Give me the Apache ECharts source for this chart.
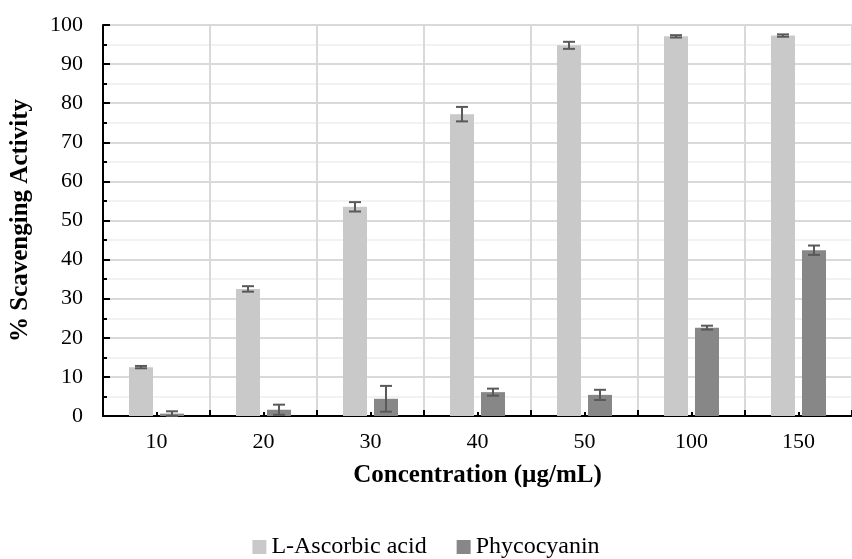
<!DOCTYPE html>
<html>
<head>
<meta charset="utf-8">
<script src="https://cdn.jsdelivr.net/npm/echarts@6/dist/echarts.min.js"></script>
<style>
  html, body { margin: 0; padding: 0; background: #fff; }
  #chart { width: 852px; height: 559px; }
</style>
</head>
<body>
<div id="chart"></div>
<script>
// Concentrations tested (µg/mL)
const categories = ['10', '20', '30', '40', '50', '100', '150'];

// Mean % scavenging activity and standard deviation
const ascorbicMean = [12.5, 32.5, 53.5, 77.2, 94.8, 97.1, 97.3];
const ascorbicSd   = [0.3, 0.7, 1.2, 1.85, 0.9, 0.3, 0.3];
const phycoMean    = [0.6, 1.6, 4.4, 6.1, 5.4, 22.6, 42.4];
const phycoSd      = [0.6, 1.3, 3.3, 0.9, 1.3, 0.5, 1.2];

const seriesNames = ['L-Ascorbic acid', 'Phycocyanin'];
const seriesColors = ['#c9c9c9', '#878787'];

const FONT = '"Liberation Serif", "Times New Roman", serif';
const BAR_W = 24;
const BAR_GAP = 7;

const chart = echarts.init(document.getElementById('chart'), null, { renderer: 'canvas' });

function errorBars(means, sds, side) {
  const shift = side * (BAR_W + BAR_GAP) / 2;
  return {
    type: 'custom',
    z: 5,
    silent: true,
    data: means.map((m, i) => [i, m, sds[i]]),
    renderItem: function (params, api) {
      const i = api.value(0), m = api.value(1), e = api.value(2);
      const top = api.coord([i, m + e]);
      const bot = api.coord([i, Math.max(0, m - e)]);
      const x = top[0] + shift;
      const half = 6;
      const style = { stroke: '#595959', lineWidth: 2 };
      return {
        type: 'group',
        children: [
          { type: 'line', shape: { x1: x, y1: top[1], x2: x, y2: bot[1] }, style: style },
          { type: 'line', shape: { x1: x - half, y1: top[1], x2: x + half, y2: top[1] }, style: style },
          { type: 'line', shape: { x1: x - half, y1: bot[1], x2: x + half, y2: bot[1] }, style: style }
        ]
      };
    }
  };
}

const option = {
  animation: false,
  backgroundColor: '#ffffff',
  textStyle: { fontFamily: FONT },
  grid: { left: 103, top: 25, width: 758, height: 391, containLabel: false },
  legend: {
    top: 530,
    left: 'center',
    icon: 'rect',
    itemWidth: 14,
    itemHeight: 14,
    itemGap: 30,
    data: seriesNames,
    textStyle: { fontFamily: FONT, fontSize: 24, color: '#000' }
  },
  xAxis: [
    {
      type: 'category',
      data: categories,
      boundaryGap: true,
      name: 'Concentration (µg/mL)',
      nameLocation: 'middle',
      nameGap: 47,
      nameTextStyle: { fontFamily: FONT, fontSize: 25, fontWeight: 'bold', color: '#000' },
      axisLine: { show: true, lineStyle: { color: '#000', width: 2 } },
      axisTick: { show: true, inside: true, length: 6, lineStyle: { color: '#000', width: 2 } },
      axisLabel: { fontFamily: FONT, fontSize: 22, color: '#000', margin: 15 },
      splitLine: { show: true, lineStyle: { color: '#d9d9d9', width: 2 } }
    },
    {
      // short ticks at each category centre
      type: 'category',
      data: categories,
      position: 'bottom',
      boundaryGap: true,
      axisLine: { show: false },
      axisTick: { show: true, inside: true, alignWithLabel: true, length: 4, lineStyle: { color: '#000', width: 2 } },
      axisLabel: { show: false },
      splitLine: { show: false }
    }
  ],
  yAxis: {
    type: 'value',
    min: 0,
    max: 100,
    interval: 10,
    name: '% Scavenging Activity',
    nameLocation: 'middle',
    nameGap: 70,
    nameTextStyle: { fontFamily: FONT, fontSize: 25, fontWeight: 'bold', color: '#000' },
    axisLine: { show: true, lineStyle: { color: '#000', width: 2 } },
    axisTick: { show: true, inside: true, length: 7, lineStyle: { color: '#000', width: 2 } },
    minorTick: { show: true, splitNumber: 2, length: 4, lineStyle: { color: '#000', width: 2 } },
    axisLabel: { fontFamily: FONT, fontSize: 22, color: '#000', margin: 20 },
    splitLine: { show: true, lineStyle: { color: '#d9d9d9', width: 2 } },
    minorSplitLine: { show: true, lineStyle: { color: '#f2f2f2', width: 2 } }
  },
  series: [
    {
      name: seriesNames[0],
      type: 'bar',
      data: ascorbicMean,
      barWidth: BAR_W,
      barGap: (BAR_GAP / BAR_W * 100) + '%',
      itemStyle: { color: seriesColors[0] },
      z: 3
    },
    {
      name: seriesNames[1],
      type: 'bar',
      data: phycoMean,
      barWidth: BAR_W,
      itemStyle: { color: seriesColors[1] },
      z: 3
    },
    errorBars(ascorbicMean, ascorbicSd, -1),
    errorBars(phycoMean, phycoSd, 1)
  ]
};

chart.setOption(option);
</script>
</body>
</html>
